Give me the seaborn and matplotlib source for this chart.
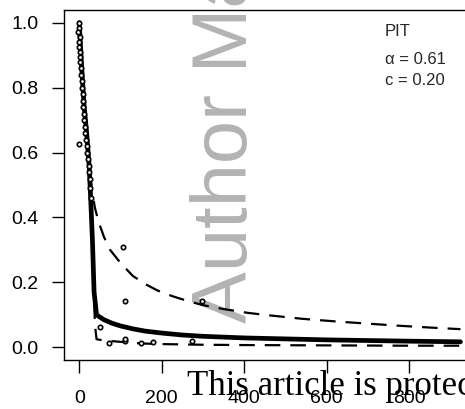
import numpy as np
import pandas as pd
import matplotlib
matplotlib.use("Agg")
import matplotlib.pyplot as plt
import seaborn as sns

# ---- data ----
solid_x = [0, 6, 12, 18, 24, 28, 32, 36, 42, 60, 80, 100, 130, 160, 200, 250, 300, 400, 500, 600, 700, 800, 925]
solid_y = [1.0, 0.86, 0.74, 0.66, 0.56, 0.45, 0.33, 0.17, 0.100, 0.085, 0.074, 0.066, 0.057, 0.050, 0.044, 0.038, 0.034, 0.029, 0.026, 0.023, 0.021, 0.019, 0.017]

upper_x = [0, 12, 24, 30, 38, 46, 60, 75, 100, 130, 160, 190, 225, 265, 300, 350, 410, 465, 540, 620, 700, 770, 850, 925]
upper_y = [1.0, 0.75, 0.57, 0.49, 0.43, 0.39, 0.34, 0.30, 0.26, 0.22, 0.195, 0.175, 0.158, 0.142, 0.130, 0.118, 0.106, 0.098, 0.088, 0.080, 0.073, 0.067, 0.061, 0.056]

lower_x = [0, 10, 20, 30, 38, 42, 60, 100, 150, 200, 300, 400, 600, 800, 925]
lower_y = [1.0, 0.80, 0.62, 0.40, 0.07, 0.025, 0.021, 0.017, 0.012, 0.010, 0.008, 0.007, 0.006, 0.005, 0.005]

obs_x = [-1, 0, -2, 1, -1, 0, 2, 1, 3, 4, 5, 6, 7, 8, 9, 10, 11, 12, 14, 15, 17, 18, 20, 21, 23, 24, 26, 27, 29,
         -1, 107, 111, 297, 50, 73, 111, 149, 179, 273, 111]
obs_y = [1.0, 0.985, 0.97, 0.955, 0.94, 0.925, 0.91, 0.895, 0.88, 0.86, 0.84, 0.82, 0.80, 0.78, 0.76, 0.74, 0.72,
         0.70, 0.68, 0.66, 0.64, 0.62, 0.60, 0.58, 0.56, 0.54, 0.52, 0.49, 0.46,
         0.626, 0.31, 0.144, 0.144, 0.064, 0.014, 0.020, 0.012, 0.017, 0.020, 0.026]

xticks = [0, 200, 400, 600, 800]
yticks = [0.0, 0.2, 0.4, 0.6, 0.8, 1.0]
legend_lines = ["PIT", "\u03b1 = 0.61", "c = 0.20"]

# ---- figure ----
sns.set_style("white")
plt.rcParams['font.family'] = ['Liberation Sans', 'DejaVu Sans']

W, H = 465, 409
fig = plt.figure(figsize=(W / 100, H / 100), dpi=100)
ax = fig.add_axes([64 / W, 49 / H, (475.7 - 64) / W, (360 - 10) / H])
ax.set_facecolor("white")

# watermark behind the data
ax.text(247 / W, (H - 323) / H, "Author Manuscript", rotation=90, rotation_mode="anchor",
        ha="left", va="baseline", transform=fig.transFigure, fontsize=56,
        color="#b3b3b3", family="Liberation Sans", zorder=0.5, clip_on=False)

sns.lineplot(x=solid_x, y=solid_y, ax=ax, color="black", lw=3.4, sort=False, zorder=3)
sns.lineplot(x=upper_x, y=upper_y, ax=ax, color="black", lw=1.6, sort=False, zorder=3)
sns.lineplot(x=lower_x, y=lower_y, ax=ax, color="black", lw=1.6, sort=False, zorder=3)
lines = ax.get_lines()
lines[1].set_dashes((7, 4.5))
lines[2].set_dashes((7, 4.5))

sns.scatterplot(x=obs_x, y=obs_y, ax=ax, marker="o", s=10, facecolor="white",
                edgecolor="black", linewidth=1.2, zorder=4)

ax.set_xlim(-37, 962)
ax.set_ylim(-0.039, 1.039)
ax.set_xticks(xticks)
ax.set_xticklabels([str(v) for v in xticks])
ax.set_yticks(yticks)
ax.set_yticklabels([f"{v:.1f}" for v in yticks])
ax.tick_params(axis="y", direction="out", length=8.6, width=1.0, pad=10, labelsize=14, colors="black")
ax.tick_params(axis="x", direction="out", length=9.5, width=1.0, pad=12, labelsize=14, colors="black")
ax.tick_params(left=True, bottom=True)
for s in ax.spines.values():
    s.set_visible(True)
    s.set_color("black")
    s.set_linewidth(1.0)
ax.set_xlabel("")
ax.set_ylabel("")

# legend-like annotation
fig.text(385 / W, 1 - 31.5 / H, legend_lines[0], ha="left", va="center", fontsize=12)
fig.text(385 / W, 1 - 59.5 / H, legend_lines[1], ha="left", va="center", fontsize=12)
fig.text(385 / W, 1 - 80.5 / H, legend_lines[2], ha="left", va="center", fontsize=12)

# bottom watermark
fig.text(187 / W, 14 / H, "This article is protected by copyright. All rights reserved",
         ha="left", va="baseline", fontsize=25, family="Liberation Serif", color="black")

fig.savefig("out.png", dpi=100)
